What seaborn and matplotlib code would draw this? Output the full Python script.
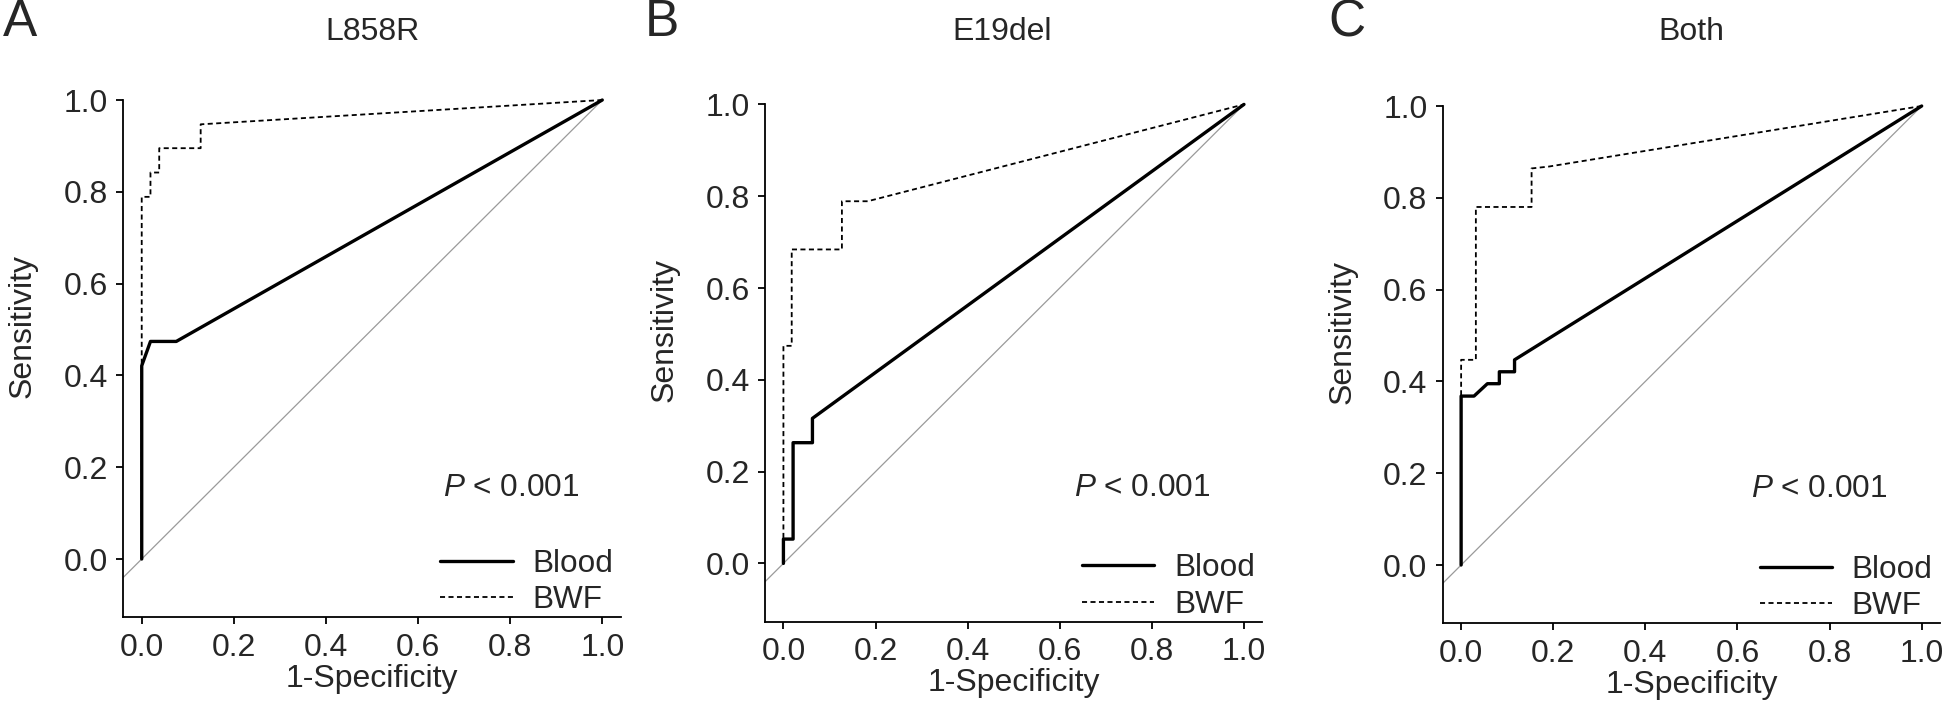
import numpy as np
import pandas as pd
import matplotlib
matplotlib.use('Agg')
import matplotlib.pyplot as plt
import seaborn as sns

# ── ROC points (x = 1-specificity, y = sensitivity) ──
PANELS    = ['A', 'B', 'C']
TITLES    = ['L858R', 'E19del', 'Both']

blood_x_a = [0, 0, 0.019, 0.075, 1]
blood_y_a = [0, 0.421, 0.474, 0.474, 1]
bwf_x_a   = [0, 0, 0.019, 0.019, 0.038, 0.038, 0.128, 0.128, 1]
bwf_y_a   = [0, 0.789, 0.789, 0.842, 0.842, 0.895, 0.895, 0.947, 1]

blood_x_b = [0, 0, 0.021, 0.021, 0.063, 0.063, 1]
blood_y_b = [0, 0.053, 0.053, 0.263, 0.263, 0.316, 1]
bwf_x_b   = [0, 0, 0.018, 0.018, 0.127, 0.127, 0.183, 1]
bwf_y_b   = [0, 0.474, 0.474, 0.684, 0.684, 0.789, 0.789, 1]

blood_x_c = [0, 0, 0.028, 0.057, 0.083, 0.083, 0.116, 0.116, 1]
blood_y_c = [0, 0.368, 0.368, 0.395, 0.395, 0.421, 0.421, 0.447, 1]
bwf_x_c   = [0, 0, 0.032, 0.032, 0.153, 0.153, 0.19, 1]
bwf_y_c   = [0, 0.447, 0.447, 0.780, 0.780, 0.864, 0.868, 1]

P_TEXT = '$\\it{P}$ < 0.001'
TICKS  = [0.0, 0.2, 0.4, 0.6, 0.8, 1.0]
XLIM   = (-0.04, 1.04)
YLIM   = (-0.127, 1.0)

curves = [
    (blood_x_a, blood_y_a, bwf_x_a, bwf_y_a),
    (blood_x_b, blood_y_b, bwf_x_b, bwf_y_b),
    (blood_x_c, blood_y_c, bwf_x_c, bwf_y_c),
]

sns.set_style('ticks')
plt.rcParams['font.family'] = ['Liberation Sans', 'DejaVu Sans']
plt.rcParams['mathtext.fontset'] = 'custom'
plt.rcParams['mathtext.it'] = 'Liberation Sans:italic'
plt.rcParams['mathtext.rm'] = 'Liberation Sans'

fig = plt.figure(figsize=(19.46, 7.05), dpi=100)

# axes boxes in pixels: left, bottom (from top)
boxes  = [(123.3, 617.3), (765.0, 621.7), (1442.7, 623.3)]
AX_W, AX_H = 497.4, 517.3
title_x  = [372, 1002, 1691]
letter_x = [20, 662, 1347]
p_pos    = [(0.655, 0.155), (0.63, 0.165), (0.63, 0.165)]

for i, (bx, by, wx, wy) in enumerate(curves):
    left, bottom = boxes[i]
    ax = fig.add_axes([left / 1946, (705 - bottom) / 705, AX_W / 1946, AX_H / 705])

    # chance diagonal
    ax.plot([XLIM[0], 1], [XLIM[0], 1], color='#9a9a9a', lw=0.9, zorder=1)

    df_blood = pd.DataFrame({'x': bx, 'y': by})
    df_bwf   = pd.DataFrame({'x': wx, 'y': wy})
    sns.lineplot(data=df_bwf, x='x', y='y', ax=ax, estimator=None, sort=False,
                 color='black', lw=1.3, linestyle=(0, (2.8, 1.9)), label='BWF',
                 clip_on=False, zorder=2)
    sns.lineplot(data=df_blood, x='x', y='y', ax=ax, estimator=None, sort=False,
                 color='black', lw=2.4, label='Blood', clip_on=False, zorder=3)

    ax.set_xlim(*XLIM)
    ax.set_ylim(*YLIM)
    ax.set_xticks(TICKS)
    ax.set_yticks(TICKS)
    ax.set_xticklabels([f'{t:.1f}' for t in TICKS])
    ax.set_yticklabels([f'{t:.1f}' for t in TICKS])
    ax.tick_params(labelsize=23, width=1.3, length=5, pad=6, color='black')
    for s in ['top', 'right']:
        ax.spines[s].set_visible(False)
    for s in ['left', 'bottom']:
        ax.spines[s].set_linewidth(1.3)
        ax.spines[s].set_color('black')

    ax.set_xlabel('1-Specificity', fontsize=23)
    ax.set_ylabel('Sensitivity', fontsize=23)
    ax.xaxis.set_label_coords(0.5, -0.09)
    ax.yaxis.set_label_coords(-0.172, 0.563)

    ax.text(p_pos[i][0], p_pos[i][1], P_TEXT, fontsize=22.7, ha='left', va='center')

    h, l = ax.get_legend_handles_labels()
    order = [l.index('Blood'), l.index('BWF')]
    ax.legend([h[k] for k in order], [l[k] for k in order],
              loc='lower left', bbox_to_anchor=(0.637, 0.004), frameon=False,
              fontsize=22.7, borderpad=0, borderaxespad=0, handlelength=2.3,
              handletextpad=0.62, labelspacing=0.2)

    fig.text(title_x[i] / 1946, (705 - 31.7) / 705, TITLES[i], fontsize=23,
             ha='center', va='center')
    fig.text(letter_x[i] / 1946, (705 - 23) / 705, PANELS[i], fontsize=37,
             ha='center', va='center')

plt.savefig('out.png', dpi=100)
